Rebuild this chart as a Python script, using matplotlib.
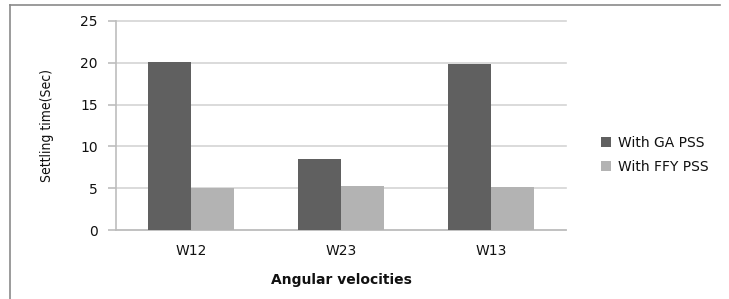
import numpy as np
import matplotlib
matplotlib.use('Agg')
import matplotlib.pyplot as plt
from matplotlib.lines import Line2D

categories = ['W12', 'W23', 'W13']
ga_pss = [20.1, 8.5, 19.8]
ffy_pss = [5.0, 5.3, 5.1]
y_ticks = [0, 5, 10, 15, 20, 25]

DARK = '#606060'
LIGHT = '#b3b3b3'
GRID = '#d4d4d4'
TEXT = '#111111'

fig = plt.figure(figsize=(7.29, 2.99), dpi=100, facecolor='white')
ax = fig.add_axes([116 / 729, 1 - 230 / 299, 450 / 729, 209 / 299])

x = np.arange(len(categories))
w = 0.287
ax.bar(x - w / 2, ga_pss, width=w, color=DARK, label='With GA PSS', zorder=3)
ax.bar(x + w / 2, ffy_pss, width=w, color=LIGHT, label='With FFY PSS', zorder=3)

ax.set_xlim(-0.5, len(categories) - 0.5)
ax.set_ylim(0, 25)
ax.set_yticks(y_ticks)
ax.set_xticks(x)
ax.set_xticklabels(categories)
ax.yaxis.grid(True, color=GRID, linewidth=1.2, zorder=0)
for gl in ax.get_ygridlines():
    gl.set_clip_on(False)
ax.set_axisbelow(True)

for s in ['top', 'right']:
    ax.spines[s].set_visible(False)
ax.spines['left'].set_color('#bdbdbd')
ax.spines['bottom'].set_color('#bdbdbd')
ax.spines['left'].set_linewidth(1.2)
ax.spines['bottom'].set_linewidth(1.2)
ax.tick_params(axis='y', length=6, color='#bdbdbd', width=1.2, labelsize=10, labelcolor=TEXT, pad=7)
ax.tick_params(axis='x', length=0, labelsize=10, labelcolor=TEXT, pad=10)

ax.set_ylabel('Settling time(Sec)', family=['Liberation Sans Narrow', 'DejaVu Sans'],
              fontstretch='condensed', fontsize=10, color=TEXT, labelpad=19)
ax.set_xlabel('Angular velocities', fontsize=10, fontweight='bold', color=TEXT, labelpad=11)

leg = ax.legend(loc='center left', bbox_to_anchor=(1.05, 0.36), frameon=False,
                fontsize=10, handlelength=0.75, handleheight=0.75, handletextpad=0.45,
                labelspacing=0.75, labelcolor=TEXT)

# outer chart border (top and left edges visible)
fig.add_artist(Line2D([10 / 729, 720 / 729], [1 - 5 / 299, 1 - 5 / 299],
                      transform=fig.transFigure, color='#8a8a8a', linewidth=1.2))
fig.add_artist(Line2D([10 / 729, 10 / 729], [0, 1 - 5 / 299],
                      transform=fig.transFigure, color='#8a8a8a', linewidth=1.2))

plt.savefig('out.png', dpi=100, facecolor='white')
